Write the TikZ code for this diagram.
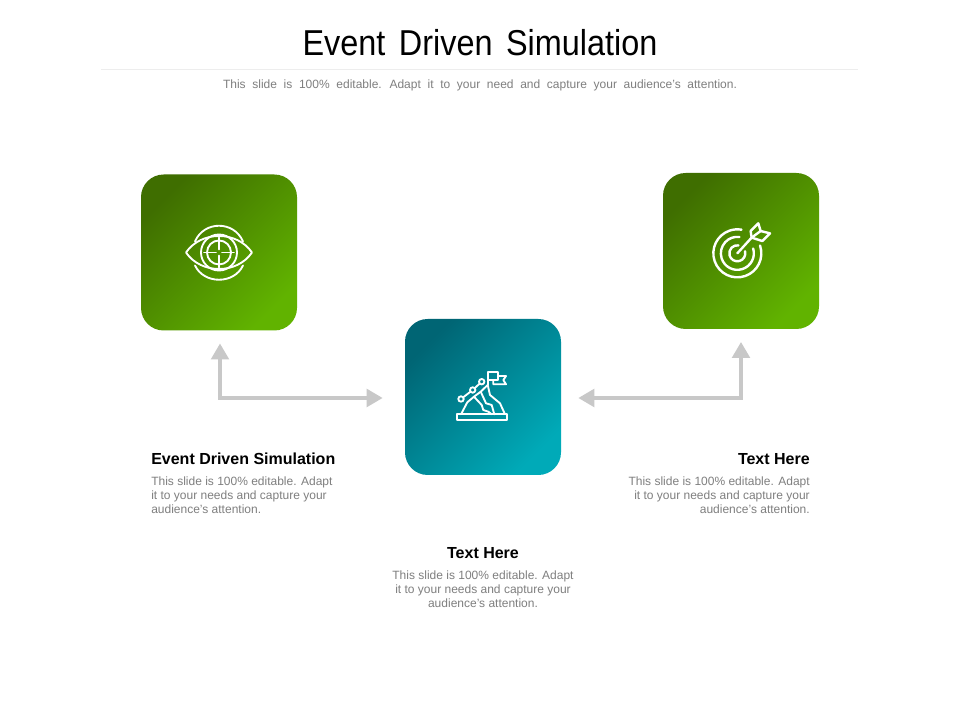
\documentclass[tikz,border=0pt]{standalone}
\usepackage{fontspec}
\setmainfont{Liberation Sans}
\newfontfamily\titlefont[FakeStretch=0.9,WordSpace=1.5]{Liberation Sans}
\newfontfamily\subtitlefont[WordSpace=2]{Liberation Sans}
\usetikzlibrary{arrows.meta}
\definecolor{greenDark}{HTML}{3F6E00}
\definecolor{greenLight}{HTML}{61B300}
\definecolor{tealDark}{HTML}{006574}
\definecolor{tealLight}{HTML}{00AAB8}
\definecolor{bodyGray}{HTML}{7F7F7F}
\definecolor{arrowGray}{HTML}{C8C8C8}
\tikzset{
  iconbox/.style={minimum size=117pt, inner sep=0pt, rounded corners=17pt},
  greenbox/.style={iconbox, top color=greenDark, bottom color=greenLight, shading angle=45},
  tealbox/.style={iconbox, top color=tealDark, bottom color=tealLight, shading angle=45},
  heading/.style={font=\bfseries\fontsize{12}{14}\selectfont, text=black, inner sep=0pt},
  bodytext/.style={font=\fontsize{9}{10.5}\selectfont, text=bodyGray, inner sep=0pt},
  icon/.style={draw=white, line width=1.4pt, line cap=round, line join=round},
  thickicon/.style={icon, line width=1.8pt},
  flow/.style={draw=arrowGray, line width=3.5pt, {Triangle[length=12pt,width=13pt]}-{Triangle[length=12pt,width=13pt]}}
}
\begin{document}
\begin{tikzpicture}[x=0.75pt,y=0.75pt]
\useasboundingbox (0,0) rectangle (960,720);
\fill[white] (0,0) rectangle (960,720);
% title block
\node[inner sep=0pt, font=\titlefont\fontsize{27}{30}\selectfont] (title) at (480,677) {Event Driven Simulation};
\coordinate (ruleL) at (101,650);
\coordinate (ruleR) at (858,650);
\draw[draw=black!7, line width=0.75pt] (ruleL) -- (ruleR);
\node[bodytext, font=\subtitlefont\fontsize{9}{11}\selectfont] (subtitle) at (480,634.5) {This slide is 100\% editable. Adapt it to your need and capture your audience’s attention.};
% boxes
\node[greenbox] (eyebox) at (219,467.5) {};
\node[greenbox] (targetbox) at (741,469) {};
\node[tealbox] (peakbox) at (483,323) {};
% connectors
\draw[flow] ([xshift=0.75pt,yshift=-9.5pt]eyebox.south) |- ([xshift=-16.5pt,yshift=-0.75pt]peakbox.west);
\draw[flow] ([yshift=-9.5pt]targetbox.south) |- ([xshift=12.75pt,yshift=-0.75pt]peakbox.east);
% eye icon
\begin{scope}[shift={(eyebox.center)}]
\draw[icon] (-33,0) .. controls (-18,22) and (18,22) .. (33,0) .. controls (18,-22) and (-18,-22) .. (-33,0) -- cycle;
\draw[icon] (0,0) circle (18);
\draw[icon] (0,0) circle (12);
\draw[icon] (-15,0) -- (-3,0) (3,0) -- (15,0) (0,-15) -- (0,-3) (0,3) -- (0,15);
\draw[icon] (-24,11) .. controls (-15,32) and (15,32) .. (24,11);
\draw[icon] (-24,-13) .. controls (-15,-32) and (15,-32) .. (24,-13);
\end{scope}
% target icon
\begin{scope}[shift={(targetbox.center)}, xshift=-2.75pt, yshift=-1.75pt]
\draw[thickicon] (22.7,7.8) arc[start angle=19, end angle=-280, radius=24];
\draw[thickicon] (15.8,4.8) arc[start angle=17, end angle=-277, radius=16.5];
\draw[thickicon] (7.7,2.1) arc[start angle=15, end angle=-278, radius=8];
\draw[thickicon] (0,0) -- (14.3,15.7);
\draw[thickicon] (14.3,15.7) -- (13.3,22.3) -- (21,30) -- (23.3,22.3) -- (32.7,20) -- (25,12.3) -- cycle;
\draw[thickicon] (14.3,15.7) -- (23.3,22.3);
\end{scope}
% peak icon
\begin{scope}[shift={(peakbox.center)}]
\draw[icon] (-25.7,-17.3) rectangle (24.3,-23);
\draw[icon] (-22,-17.3) -- (-15.7,-5.3) -- (-9,0.3) -- (-2.3,5.3) -- (4.7,12) -- (7,2) -- (17,-6.3) -- (22,-17.3);
\draw[icon] (-9,0.3) -- (-1.3,-8) -- (0.3,-13) -- (5.3,-14.7) -- (8.7,-17.3);
\draw[icon] (-2.3,5.3) -- (3,-6.3) -- (8.7,-8) -- (11.3,-17.3);
\draw[icon] (4.7,12) -- (4.7,24.7) -- (14.7,24.7) -- (14.7,17) -- (4.7,17);
\draw[icon] (14.7,21) -- (23,21) -- (20.3,17) -- (23,12.7) -- (10.3,12.7) -- (10.3,17);
\draw[icon] (-22,-2) circle (2.7);
\draw[icon] (-10.3,7) circle (2.7);
\draw[icon] (-1.3,15.3) circle (2.7);
\draw[icon] (-19.9,-0.4) -- (-12.4,5.4) (-8.3,8.9) -- (-3.3,13.4);
\end{scope}
% captions
\node[heading, anchor=west] (eyehead) at (151,261) {Event Driven Simulation};
\node[bodytext, anchor=north west, align=left] (eyetext) at (151,243) {This slide is 100\% editable. Adapt\\it to your needs and capture your\\audience's attention.};
\node[heading, anchor=east] (targethead) at (810,261) {Text Here};
\node[bodytext, anchor=north east, align=right] (targettext) at (810,243) {This slide is 100\% editable. Adapt\\it to your needs and capture your\\audience's attention.};
\node[heading] (peakhead) at (483,167) {Text Here};
\node[bodytext, anchor=north, align=center] (peaktext) at (483,149) {This slide is 100\% editable. Adapt\\it to your needs and capture your\\audience's attention.};
\end{tikzpicture}
\end{document}
